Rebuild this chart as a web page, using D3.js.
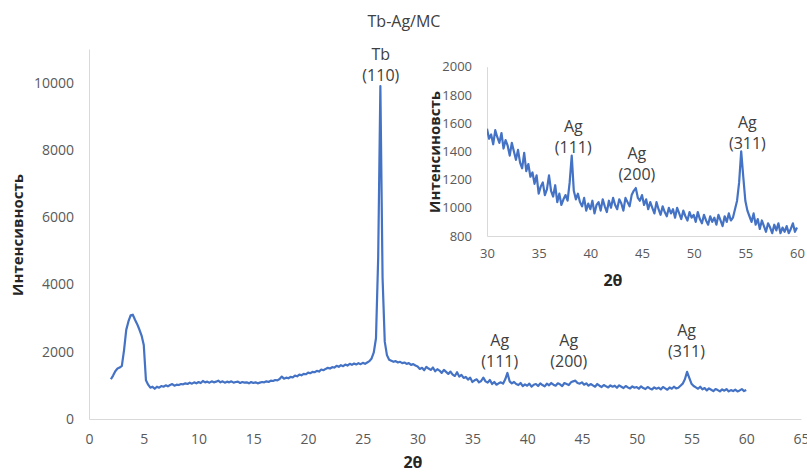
<!DOCTYPE html>
<html>
<head>
<meta charset="utf-8">
<style>
    body { margin: 0; background: #fff; }
    svg text { font-family: "Open Sans", sans-serif; fill: #595959; }
    .axis path { stroke: #d9d9d9; }
    .axis text { font-size: 14px; }
    .inset .axis text { font-size: 13px; }
</style>
</head>
<body>
<svg id="chart" width="807" height="472"></svg>

<script src="https://d3js.org/d3.v7.min.js"></script>
<script>
    // XRD pattern: 2θ from 2° to 60°, one reading every 0.2°
    const twoThetaStart = 2.0;
    const twoThetaStep = 0.2;
    const intensity = [
        1180, 1290, 1420, 1500, 1530,   // 2
        1580, 2050, 2650, 2900, 3080,   // 3
        3100, 2950, 2820, 2660, 2480,   // 4
        2200, 1150, 1020, 930, 960,     // 5
        900, 960, 930, 980, 960,        // 6
        1000, 970, 1010, 1040, 990,     // 7
        1020, 1010, 1040, 1030, 1060,   // 8
        1040, 1080, 1050, 1090, 1060,   // 9
        1100, 1070, 1130, 1090, 1110,   // 10
        1080, 1120, 1090, 1110, 1140,   // 11
        1090, 1120, 1080, 1110, 1090,   // 12
        1120, 1080, 1100, 1110, 1070,   // 13
        1100, 1080, 1090, 1060, 1100,   // 14
        1070, 1090, 1060, 1080, 1100,   // 15
        1090, 1120, 1100, 1140, 1130,   // 16
        1160, 1150, 1190, 1260, 1200,   // 17
        1230, 1210, 1250, 1240, 1290,   // 18
        1270, 1320, 1300, 1340, 1330,   // 19
        1380, 1360, 1400, 1390, 1430,   // 20
        1410, 1470, 1450, 1490, 1520,   // 21
        1500, 1540, 1530, 1580, 1550,   // 22
        1600, 1570, 1620, 1590, 1640,   // 23
        1610, 1650, 1620, 1660, 1630,   // 24
        1670, 1640, 1680, 1720, 1800,   // 25
        1980, 2400, 4800, 9900, 4200,   // 26
        2300, 1900, 1760, 1730, 1700,   // 27
        1720, 1680, 1700, 1660, 1680,   // 28
        1640, 1660, 1610, 1630, 1590,   // 29
        1560, 1490, 1520, 1450, 1550,   // 30
        1500, 1460, 1530, 1420, 1480,   // 31
        1440, 1370, 1460, 1400, 1340,   // 32
        1410, 1320, 1280, 1390, 1260,   // 33
        1310, 1220, 1250, 1170, 1230,   // 34
        1100, 1150, 1180, 1090, 1130,   // 35
        1230, 1120, 1080, 1160, 1040,   // 36
        1100, 1020, 1060, 1090, 1050,   // 37
        1180, 1370, 1120, 1060, 1100,   // 38
        1040, 1010, 1070, 980, 1030,    // 39
        990, 1050, 960, 1020, 1040,     // 40
        980, 1060, 1010, 970, 1050,     // 41
        1000, 1070, 1020, 990, 1060,    // 42
        1030, 980, 1070, 1040, 1010,    // 43
        1090, 1120, 1140, 1070, 1050,   // 44
        1090, 1020, 1060, 990, 1040,    // 45
        1000, 960, 1040, 990, 950,      // 46
        1010, 970, 940, 1000, 960,      // 47
        990, 930, 1000, 960, 920,       // 48
        980, 940, 910, 970, 930,        // 49
        950, 900, 970, 920, 890,        // 50
        950, 910, 880, 940, 900,        // 51
        930, 880, 950, 910, 870,        // 52
        940, 900, 960, 910, 930,        // 53
        990, 1050, 1180, 1400, 1220,    // 54
        1050, 980, 940, 900, 960,       // 55
        880, 920, 850, 910, 870,        // 56
        830, 890, 860, 820, 880,        // 57
        840, 890, 820, 860, 830,        // 58
        870, 820, 850, 890, 830,        // 59
        860                             // 60
    ];

    const mainXTicks = [0, 5, 10, 15, 20, 25, 30, 35, 40, 45, 50, 55, 60, 65];
    const mainYTicks = [0, 2000, 4000, 6000, 8000, 10000];
    const insetXTicks = [30, 35, 40, 45, 50, 55, 60];
    const insetYTicks = [800, 1000, 1200, 1400, 1600, 1800, 2000];

    // peak names, placed at (2θ, intensity) of the lower text line
    const mainLabels = [
        { lines: ["Tb", "(110)"], angle: 26.64, value: 10050 },
        { lines: ["Ag", "(111)"], angle: 37.5, value: 1560 },
        { lines: ["Ag", "(200)"], angle: 43.8, value: 1560 },
        { lines: ["Ag", "(311)"], angle: 54.55, value: 1840 }
    ];
    const insetLabels = [
        { lines: ["Ag", "(111)"], angle: 38.35, value: 1388 },
        { lines: ["Ag", "(200)"], angle: 44.5, value: 1197 },
        { lines: ["Ag", "(311)"], angle: 55.2, value: 1417 }
    ];

    const data = intensity.map((v, i) => ({ x: +(twoThetaStart + i * twoThetaStep).toFixed(1), y: v }));

    const svg = d3.select("#chart");
    const blue = "#4472c4";
    const fmt = d3.format("d");

    // title
    svg.append("text")
       .attr("x", 404).attr("y", 27)
       .attr("text-anchor", "middle")
       .style("font-size", "16px")
       .style("fill", "#404040")
       .text("Tb-Ag/MC");

    // ---- main plot ----
    const x = d3.scaleLinear().domain([0, 65]).range([89, 801]);
    const y = d3.scaleLinear().domain([0, 11000]).range([419, 49]);

    svg.append("g")
       .attr("class", "axis")
       .attr("transform", "translate(0,419)")
       .call(d3.axisBottom(x).tickValues(mainXTicks).tickFormat(fmt).tickSize(0).tickPadding(15));

    svg.append("g")
       .attr("class", "axis")
       .attr("transform", "translate(89,0)")
       .call(d3.axisLeft(y).tickValues(mainYTicks).tickFormat(fmt).tickSize(0).tickPadding(15));

    svg.append("path")
       .datum(data)
       .attr("fill", "none")
       .attr("stroke", blue)
       .attr("stroke-width", 2.2)
       .attr("stroke-linejoin", "round")
       .attr("d", d3.line().x(d => x(d.x)).y(d => y(d.y)));

    svg.append("text")
       .attr("x", 413).attr("y", 468)
       .attr("text-anchor", "middle")
       .style("font-size", "16px").style("font-weight", "bold")
       .style("fill", "#262626")
       .text("2θ");

    svg.append("text")
       .attr("transform", "translate(18,235) rotate(-90)")
       .attr("text-anchor", "middle")
       .attr("dy", "0.35em")
       .style("font-size", "15px").style("font-weight", "bold")
       .style("fill", "#262626")
       .text("Интенсивность");

    function drawLabels(group, labels, sx, sy) {
        labels.forEach(l => {
            const t = group.append("text")
                           .attr("text-anchor", "middle")
                           .style("font-size", "16px")
                           .style("fill", "#404040");
            t.append("tspan").attr("x", sx(l.angle)).attr("y", sy(l.value) - 21).text(l.lines[0]);
            t.append("tspan").attr("x", sx(l.angle)).attr("y", sy(l.value)).text(l.lines[1]);
        });
    }
    drawLabels(svg, mainLabels, x, y);

    // ---- inset ----
    const inset = svg.append("g").attr("class", "inset");
    const ix = d3.scaleLinear().domain([30, 60]).range([487, 797]);
    const iy = d3.scaleLinear().domain([800, 2000]).range([236, 66.7]);

    inset.append("g")
         .attr("class", "axis")
         .attr("transform", "translate(0,236)")
         .call(d3.axisBottom(ix).tickValues(insetXTicks).tickFormat(fmt).tickSize(0).tickPadding(13));

    inset.append("g")
         .attr("class", "axis")
         .attr("transform", "translate(487,0)")
         .call(d3.axisLeft(iy).tickValues(insetYTicks).tickFormat(fmt).tickSize(0).tickPadding(15));

    svg.append("clipPath").attr("id", "inset-clip")
       .append("rect").attr("x", 487).attr("y", 60).attr("width", 312).attr("height", 176);

    inset.append("path")
         .datum(data.filter(d => d.x >= 30))
         .attr("clip-path", "url(#inset-clip)")
         .attr("fill", "none")
         .attr("stroke", blue)
         .attr("stroke-width", 2.2)
         .attr("stroke-linejoin", "round")
         .attr("d", d3.line().x(d => ix(d.x)).y(d => iy(d.y)));

    inset.append("text")
         .attr("x", 613).attr("y", 286)
         .attr("text-anchor", "middle")
         .style("font-size", "16px").style("font-weight", "bold")
         .style("fill", "#262626")
         .text("2θ");

    inset.append("text")
         .attr("transform", "translate(435,152) rotate(-90)")
         .attr("text-anchor", "middle")
         .attr("dy", "0.35em")
         .style("font-size", "15px").style("font-weight", "bold")
         .style("fill", "#262626")
         .text("Интенсиновсть");

    drawLabels(inset, insetLabels, ix, iy);
</script>
</body>
</html>
